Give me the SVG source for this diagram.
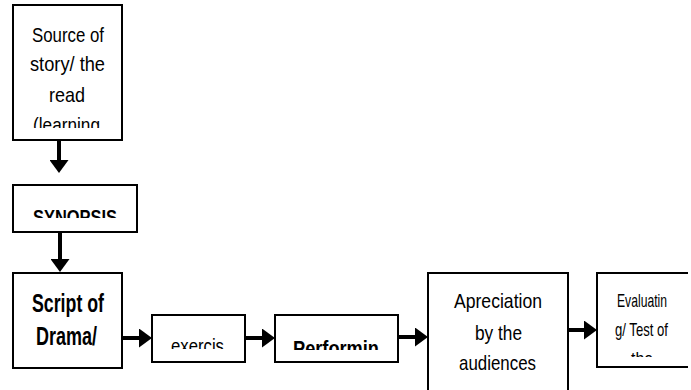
<svg xmlns="http://www.w3.org/2000/svg" width="691" height="390" viewBox="0 0 691 390">
<style>
.box{fill:#fff;stroke:#000;stroke-width:2}
.t{font-family:"Liberation Sans",Arial,sans-serif;font-size:21px;fill:#000;text-anchor:middle}
.b{font-weight:bold}
.s{font-size:19px}
.con{stroke:#000;stroke-width:4;fill:none}
</style>
<defs>
<marker id="ah" markerUnits="userSpaceOnUse" viewBox="0 0 13 19" refX="3" refY="9.5" markerWidth="13" markerHeight="19" orient="auto">
<path d="M0,0 L13,9.5 L0,19 Z" fill="#000"/>
</marker>
<clipPath id="c1"><rect x="14" y="6" width="107" height="122"/></clipPath>
<clipPath id="c2"><rect x="14" y="186" width="122" height="32"/></clipPath>
<clipPath id="c3"><rect x="14" y="274" width="107" height="93"/></clipPath>
<clipPath id="c4"><rect x="153" y="316" width="91" height="33"/></clipPath>
<clipPath id="c5"><rect x="276" y="316" width="121" height="34"/></clipPath>
<clipPath id="c6"><rect x="429" y="274" width="138" height="105"/></clipPath>
<clipPath id="c7"><rect x="598" y="274" width="90" height="83"/></clipPath>
</defs>
<g id="connectors">
<path class="con" d="M59,140 V163" marker-end="url(#ah)"/>
<path class="con" d="M60,232 V262" marker-end="url(#ah)"/>
<path class="con" d="M122,338 H142" marker-end="url(#ah)"/>
<path class="con" d="M245,338 H265" marker-end="url(#ah)"/>
<path class="con" d="M398,337 H418" marker-end="url(#ah)"/>
<path class="con" d="M568,330 H587" marker-end="url(#ah)"/>
</g>
<g id="source">
<rect class="box" x="13" y="5" width="109" height="135"/>
<g clip-path="url(#c1)">
<text class="t" x="68" y="41.5" textLength="72" lengthAdjust="spacingAndGlyphs">Source of</text>
<text class="t" x="67.5" y="71" textLength="75" lengthAdjust="spacingAndGlyphs">story/ the</text>
<text class="t" x="67" y="101.5" textLength="36" lengthAdjust="spacingAndGlyphs">read</text>
<text class="t" x="66.5" y="131.5" textLength="67" lengthAdjust="spacingAndGlyphs">(learning</text>
</g>
</g>
<g id="synopsis">
<rect class="box" x="13" y="185" width="124" height="47"/>
<g clip-path="url(#c2)">
<text class="t b" x="75" y="224" font-size="22" textLength="84" lengthAdjust="spacingAndGlyphs">SYNOPSIS</text>
</g>
</g>
<g id="script">
<rect class="box" x="13" y="273" width="109" height="95"/>
<g clip-path="url(#c3)">
<text class="t b" x="68" y="312" style="font-size:26px" textLength="72" lengthAdjust="spacingAndGlyphs">Script of</text>
<text class="t b" x="66.5" y="345" style="font-size:26px" textLength="61" lengthAdjust="spacingAndGlyphs">Drama/</text>
</g>
</g>
<g id="exercise">
<rect class="box" x="152" y="315" width="93" height="47"/>
<g clip-path="url(#c4)">
<text class="t" x="197.5" y="353" textLength="53" lengthAdjust="spacingAndGlyphs">exercis</text>
</g>
</g>
<g id="performing">
<rect class="box" x="275" y="315" width="123" height="47"/>
<g clip-path="url(#c5)">
<text class="t b" x="336" y="355.5" style="font-size:22px" textLength="86" lengthAdjust="spacingAndGlyphs">Performin</text>
</g>
</g>
<g id="appreciation">
<rect class="box" x="428" y="273" width="140" height="130"/>
<g clip-path="url(#c6)">
<text class="t" x="498" y="308" textLength="88" lengthAdjust="spacingAndGlyphs">Apreciation</text>
<text class="t" x="498.5" y="340" textLength="47" lengthAdjust="spacingAndGlyphs">by the</text>
<text class="t" x="497.5" y="370" textLength="77" lengthAdjust="spacingAndGlyphs">audiences</text>
</g>
</g>
<g id="evaluating">
<path class="box" d="M688,273 H597 V367 H688"/>
<g clip-path="url(#c7)">
<text class="t s" x="642" y="307" textLength="50" lengthAdjust="spacingAndGlyphs">Evaluatin</text>
<text class="t s" x="641.5" y="336" textLength="53" lengthAdjust="spacingAndGlyphs">g/ Test of</text>
<text class="t s" x="642" y="365" textLength="22" lengthAdjust="spacingAndGlyphs">the</text>
</g>
</g>
</svg>
